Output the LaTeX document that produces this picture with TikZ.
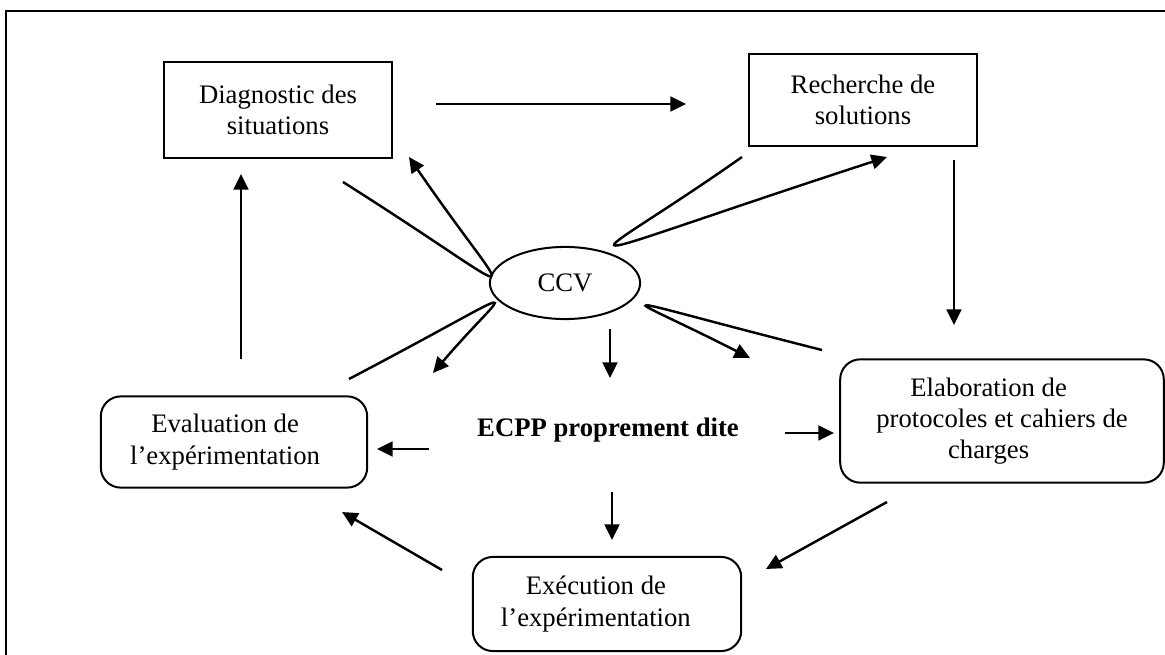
\documentclass[tikz,border=0pt]{standalone}
\usepackage{fontspec}
\setmainfont{Liberation Serif}
\usetikzlibrary{arrows.meta,calc,shapes.geometric}

\begin{document}
\begin{tikzpicture}[
      x=0.0158cm,y=-0.0158cm,
      font=\fontsize{12}{14}\selectfont,
      >={Triangle[length=7pt,width=6.6pt]},
      line width=1.1pt]
    \tikzstyle{stage}=[draw,line width=0.9pt,align=center,inner sep=0pt]
    \tikzstyle{roundstage}=[stage,rounded corners=9pt]
    \useasboundingbox (0,0) rectangle (1165,655);
    % cadre
    \draw [line width=0.9pt] (6,655) -- (6,11) -- (1165,11);

    \node [stage,minimum width=102.6pt,minimum height=42.8pt] (diag) at (278,110) {Diagnostic des\\situations};
    \node [stage,minimum width=102.6pt,minimum height=41pt] (rech) at (863,100) {Recherche de\\solutions};
    \node [roundstage,minimum width=145.4pt,minimum height=55.4pt] (elab) at (1002,421)
      {Elaboration de\hspace*{12pt}\\protocoles et cahiers de\hspace*{12pt}\\charges\hspace*{12pt}};
    \node [roundstage,minimum width=120.6pt,minimum height=42.3pt] (exec) at (607,604)
      {Exécution de\hspace*{10pt}\\l’expérimentation\hspace*{10pt}};
    \node [roundstage,minimum width=119.7pt,minimum height=41pt] (eval) at (234,442)
      {Evaluation de\hspace*{8pt}\\l’expérimentation\hspace*{8pt}};
    \node [ellipse,draw,line width=0.9pt,inner sep=0pt,minimum width=67.5pt,minimum height=32.4pt] (ccv) at (565,283) {CCV};
    \node (ecpp) at (608,430) {\textbf{ECPP proprement dite}};

    % extremites libres des fleches
    \coordinate (d-r1) at (436,104); \coordinate (d-r2) at (686,104);
    \coordinate (r-e1) at (954,160); \coordinate (r-e2) at (954,325);
    \coordinate (e-d1) at (241,359); \coordinate (e-d2) at (241,174);
    \coordinate (c-p1) at (610,329); \coordinate (c-p2) at (610,378);
    \coordinate (p-ev1) at (429,449); \coordinate (p-ev2) at (377,449);
    \coordinate (p-el1) at (785,433); \coordinate (p-el2) at (834,433);
    \coordinate (p-ex1) at (612,492); \coordinate (p-ex2) at (612,540);
    \coordinate (el-ex1) at (887,502); \coordinate (el-ex2) at (766,569);
    \coordinate (ex-ev1) at (442,570); \coordinate (ex-ev2) at (342,512);

    \draw [->] (d-r1) -- (d-r2);
    \draw [->] (r-e1) -- (r-e2);
    \draw [->] (e-d1) -- (e-d2);
    \draw [->] (c-p1) -- (c-p2);
    \draw [->] (p-ev1) -- (p-ev2);
    \draw [->] (p-el1) -- (p-el2);
    \draw [->] (p-ex1) -- (p-ex2);
    \draw [->] (el-ex1) -- (el-ex2);
    \draw [->] (ex-ev1) -- (ex-ev2);

    % boucles autour du CCV
    \coordinate (ul-in) at (343,182); \coordinate (ul-tip) at (490,275); \coordinate (ul-out) at (409,157);
    \coordinate (ur-in) at (742,157); \coordinate (ur-tip) at (617,245); \coordinate (ur-out) at (887,157);
    \coordinate (lr-in) at (822,350); \coordinate (lr-tip) at (648,306); \coordinate (lr-out) at (750,358);
    \coordinate (ll-in) at (349,379); \coordinate (ll-tip) at (492,304); \coordinate (ll-out) at (433,373);
    \foreach \p in {ul,ur,lr,ll}
      \draw [->] (\p-in) .. controls ($(\p-in)!1.333!(\p-tip)$) and ($(\p-out)!1.333!(\p-tip)$) .. (\p-out);

  \end{tikzpicture}
\end{document}
